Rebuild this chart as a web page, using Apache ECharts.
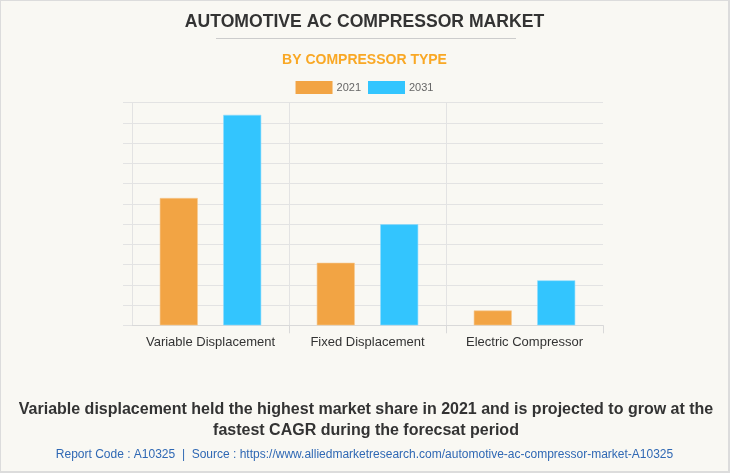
<!DOCTYPE html>
<html>
<head>
<meta charset="utf-8">
<script src="https://cdn.jsdelivr.net/npm/echarts@6/dist/echarts.min.js"></script>
<style>
html,body{margin:0;padding:0;background:#f9f8f3;}
#c{width:730px;height:473px;box-sizing:border-box;border:1px solid #dcdcdc;border-right-width:2px;border-bottom-width:2px;background:#f9f8f3;}
</style>
</head>
<body>
<div id="c"></div>
<script>
const categories = ['Variable Displacement', 'Fixed Displacement', 'Electric Compressor'];
const seriesNames = ['2021', '2031'];
const values2021 = [6.29, 3.09, 0.73];
const values2031 = [10.4, 4.99, 2.22];
const titleText = 'AUTOMOTIVE AC COMPRESSOR MARKET';
const subtitleText = 'BY COMPRESSOR TYPE';
const noteText = 'Variable displacement held the highest market share in 2021 and is projected to grow at the\nfastest CAGR during the forecsat period';
const sourceText = 'Report Code : A10325  |  Source : https://www.alliedmarketresearch.com/automotive-ac-compressor-market-A10325';

const font = '"Liberation Sans", Arial, sans-serif';
const chart = echarts.init(document.getElementById('c'), null, {renderer: 'canvas'});
chart.setOption({
  backgroundColor: '#f9f8f3',
  animation: false,
  textStyle: {fontFamily: font},
  title: [
    {text: titleText, left: 'center', top: 7,
     textStyle: {fontFamily: font, fontSize: 17.6, fontWeight: 'bold', color: '#333'}},
    {text: subtitleText, left: 'center', top: 47,
     textStyle: {fontFamily: font, fontSize: 14, fontWeight: 'bold', color: '#f9a825'}},
    {text: sourceText, left: 'center', top: 443,
     textStyle: {fontFamily: font, fontSize: 12, fontWeight: 'normal', color: '#2f68b4'}}
  ],
  graphic: [
    {type: 'line', shape: {x1: 215, y1: 37.5, x2: 515, y2: 37.5}, style: {stroke: '#cccccc', lineWidth: 1}},
    {type: 'text', x: 365, y: 398,
     style: {text: noteText, textAlign: 'center', textVerticalAlign: 'top',
       font: 'bold 16px "Liberation Sans", Arial, sans-serif', fill: '#333', lineHeight: 21}}
  ],
  legend: {
    top: 75, left: 'center', itemWidth: 37, itemHeight: 13, itemGap: 7,
    icon: 'rect',
    itemStyle: {borderWidth: 0},
    textStyle: {fontFamily: font, fontSize: 11, color: '#666', padding: [0, 0, 0, -1]},
    data: seriesNames
  },
  grid: {left: 131, right: 125, top: 101.7, bottom: 145.7, containLabel: false},
  xAxis: {
    type: 'category', data: categories,
    axisLine: {show: true, lineStyle: {color: '#d9d9d9'}},
    axisTick: {show: true, length: 8, lineStyle: {color: '#d9d9d9'},
      interval: function (i) { return i === 1 || i === 2; }},
    splitLine: {show: true, interval: 0, showMinLine: false, showMaxLine: false, lineStyle: {color: '#e3e3e3'}},
    axisLabel: {fontFamily: font, fontSize: 13, color: '#333', margin: 11, interval: 0}
  },
  yAxis: {
    type: 'value', min: 0, max: 11, interval: 1,
    axisLine: {show: true, lineStyle: {color: '#e3e3e3'}},
    axisTick: {show: true, length: 9, lineStyle: {color: '#e3e3e3'}},
    axisLabel: {show: false},
    splitLine: {show: true, lineStyle: {color: '#e3e3e3'}}
  },
  series: [
    {name: seriesNames[0], type: 'bar', data: values2021, barWidth: 38, barGap: '67%',
     itemStyle: {color: '#f2a444', borderColor: '#f7c98e', borderWidth: 0.6}},
    {name: seriesNames[1], type: 'bar', data: values2031, barWidth: 38,
     itemStyle: {color: '#33c5fe', borderColor: '#8fdcfe', borderWidth: 0.6}}
  ]
});
</script>
</body>
</html>
